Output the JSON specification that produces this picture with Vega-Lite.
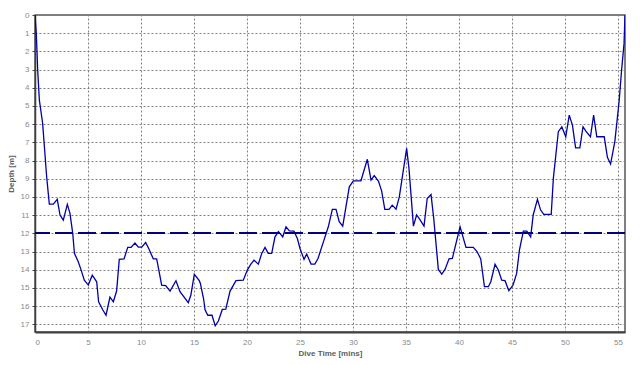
{
  "$schema": "https://vega.github.io/schema/vega-lite/v6.json",
  "autosize": "none",
  "width": 590,
  "height": 317,
  "padding": {"left": 35, "top": 15, "right": 15, "bottom": 33},
  "background": "white",
  "config": {
    "view": {"stroke": "#555555", "strokeWidth": 1.5},
    "axis": {
      "labelFont": "Liberation Sans",
      "labelFontSize": 8,
      "labelColor": "#8a8a8a",
      "titleFont": "Liberation Sans",
      "titleFontSize": 8,
      "titleFontWeight": "bold",
      "titleColor": "#606060",
      "gridColor": "#808080",
      "gridDash": [2, 2],
      "gridOpacity": 1,
      "gridWidth": 1,
      "domainColor": "#404040",
      "tickColor": "#404040",
      "labelOverlap": false
    }
  },
  "data": {
    "values": [
      {"t": 0, "d": 0}, {"t": 0.12, "d": 1}, {"t": 0.19, "d": 2}, {"t": 0.25, "d": 3},
      {"t": 0.41, "d": 4.67}, {"t": 0.72, "d": 5.95}, {"t": 1.1, "d": 8.89}, {"t": 1.35, "d": 10.39},
      {"t": 1.73, "d": 10.39}, {"t": 2.1, "d": 10.13}, {"t": 2.36, "d": 10.99}, {"t": 2.67, "d": 11.27},
      {"t": 3.05, "d": 10.41}, {"t": 3.3, "d": 10.9}, {"t": 3.56, "d": 12.0}, {"t": 3.72, "d": 13.1},
      {"t": 4.08, "d": 13.56}, {"t": 4.4, "d": 14.1}, {"t": 4.65, "d": 14.57}, {"t": 5.03, "d": 14.84},
      {"t": 5.4, "d": 14.3}, {"t": 5.82, "d": 14.66}, {"t": 6.0, "d": 15.76}, {"t": 6.39, "d": 16.2},
      {"t": 6.7, "d": 16.5}, {"t": 7.07, "d": 15.5}, {"t": 7.39, "d": 15.76}, {"t": 7.7, "d": 15.17},
      {"t": 7.95, "d": 13.43}, {"t": 8.4, "d": 13.4}, {"t": 8.75, "d": 12.77}, {"t": 9.06, "d": 12.77},
      {"t": 9.43, "d": 12.53}, {"t": 9.75, "d": 12.76}, {"t": 10.07, "d": 12.76}, {"t": 10.44, "d": 12.5},
      {"t": 10.78, "d": 12.9}, {"t": 11.16, "d": 13.4}, {"t": 11.48, "d": 13.4}, {"t": 11.95, "d": 14.84},
      {"t": 12.33, "d": 14.87}, {"t": 12.74, "d": 15.17}, {"t": 13.3, "d": 14.6}, {"t": 13.68, "d": 15.2},
      {"t": 14.46, "d": 15.8}, {"t": 14.7, "d": 15.4}, {"t": 15.03, "d": 14.25}, {"t": 15.5, "d": 14.6},
      {"t": 15.6, "d": 14.75}, {"t": 15.9, "d": 15.58}, {"t": 16.04, "d": 16.2}, {"t": 16.3, "d": 16.5},
      {"t": 16.7, "d": 16.5}, {"t": 17.0, "d": 17.08}, {"t": 17.3, "d": 16.82}, {"t": 17.67, "d": 16.18},
      {"t": 18.0, "d": 16.16}, {"t": 18.4, "d": 15.17}, {"t": 18.96, "d": 14.6}, {"t": 19.65, "d": 14.57},
      {"t": 20.03, "d": 14.02}, {"t": 20.35, "d": 13.7}, {"t": 20.66, "d": 13.47}, {"t": 21.07, "d": 13.69},
      {"t": 21.39, "d": 13.1}, {"t": 21.7, "d": 12.77}, {"t": 22.0, "d": 13.1}, {"t": 22.33, "d": 13.1},
      {"t": 22.64, "d": 12.19}, {"t": 22.96, "d": 11.9}, {"t": 23.37, "d": 12.19}, {"t": 23.68, "d": 11.64},
      {"t": 24.0, "d": 11.86}, {"t": 24.43, "d": 11.88}, {"t": 24.75, "d": 12.28}, {"t": 25.0, "d": 12.83},
      {"t": 25.38, "d": 13.43}, {"t": 25.63, "d": 13.14}, {"t": 26.04, "d": 13.69}, {"t": 26.4, "d": 13.69},
      {"t": 26.7, "d": 13.38}, {"t": 27.26, "d": 12.37}, {"t": 27.67, "d": 11.64}, {"t": 28.05, "d": 10.68},
      {"t": 28.4, "d": 10.68}, {"t": 28.7, "d": 11.36}, {"t": 29.03, "d": 11.6}, {"t": 29.65, "d": 9.44},
      {"t": 30.03, "d": 9.11}, {"t": 30.75, "d": 9.11}, {"t": 31.35, "d": 7.93}, {"t": 31.7, "d": 9.07},
      {"t": 32.0, "d": 8.83}, {"t": 32.4, "d": 9.13}, {"t": 32.7, "d": 9.66}, {"t": 33.0, "d": 10.68},
      {"t": 33.4, "d": 10.68}, {"t": 33.7, "d": 10.45}, {"t": 34.06, "d": 10.67}, {"t": 34.37, "d": 9.99},
      {"t": 35.06, "d": 7.33}, {"t": 35.28, "d": 8.43}, {"t": 35.7, "d": 11.6}, {"t": 36.0, "d": 10.99},
      {"t": 36.3, "d": 11.23}, {"t": 36.7, "d": 11.6}, {"t": 37.0, "d": 10.08}, {"t": 37.36, "d": 9.86},
      {"t": 37.6, "d": 11.09}, {"t": 38.05, "d": 13.98}, {"t": 38.37, "d": 14.24}, {"t": 38.68, "d": 13.98},
      {"t": 39.06, "d": 13.4}, {"t": 39.37, "d": 13.38}, {"t": 40.1, "d": 11.64}, {"t": 40.66, "d": 12.77},
      {"t": 41.35, "d": 12.77}, {"t": 41.7, "d": 13.0}, {"t": 42.05, "d": 13.4}, {"t": 42.4, "d": 14.93},
      {"t": 42.77, "d": 14.93}, {"t": 43.0, "d": 14.66}, {"t": 43.4, "d": 13.7}, {"t": 43.7, "d": 14.0},
      {"t": 44.03, "d": 14.57}, {"t": 44.34, "d": 14.6}, {"t": 44.7, "d": 15.15}, {"t": 45.1, "d": 14.84},
      {"t": 45.44, "d": 14.2}, {"t": 45.7, "d": 12.92}, {"t": 46.07, "d": 11.88}, {"t": 46.4, "d": 11.88},
      {"t": 46.76, "d": 12.19}, {"t": 47.0, "d": 10.99}, {"t": 47.4, "d": 10.13}, {"t": 47.7, "d": 10.72},
      {"t": 48.0, "d": 10.96}, {"t": 48.7, "d": 10.96}, {"t": 48.9, "d": 8.98}, {"t": 49.37, "d": 6.41},
      {"t": 49.7, "d": 6.14}, {"t": 50.07, "d": 6.69}, {"t": 50.4, "d": 5.5}, {"t": 50.7, "d": 6.05},
      {"t": 51.0, "d": 7.3}, {"t": 51.4, "d": 7.3}, {"t": 51.7, "d": 6.14}, {"t": 52.0, "d": 6.41},
      {"t": 52.4, "d": 6.69}, {"t": 52.7, "d": 5.5}, {"t": 53.0, "d": 6.69}, {"t": 53.7, "d": 6.69},
      {"t": 54.0, "d": 7.82}, {"t": 54.3, "d": 8.19}, {"t": 54.7, "d": 6.96}, {"t": 55.1, "d": 4.77},
      {"t": 55.34, "d": 3.02}, {"t": 55.57, "d": 1.56}, {"t": 55.66, "d": 0}
    ]
  },
  "layer": [
    {
      "mark": {"type": "line", "color": "#0000a8", "strokeWidth": 1.3, "clip": true},
      "encoding": {
        "x": {
          "field": "t", "type": "quantitative",
          "scale": {"domain": [0, 55.66], "nice": false, "zero": false},
          "axis": {
            "title": "Dive Time [mins]", "values": [0, 5, 10, 15, 20, 25, 30, 35, 40, 45, 50, 55],
            "grid": true, "domainWidth": 2, "tickSize": 0, "labelPadding": 6, "titlePadding": 3
          }
        },
        "y": {
          "field": "d", "type": "quantitative",
          "scale": {"domain": [0, 17.42], "reverse": true, "nice": false, "zero": false},
          "axis": {
            "title": "Depth [m]", "values": [0, 1, 2, 3, 4, 5, 6, 7, 8, 9, 10, 11, 12, 13, 14, 15, 16, 17],
            "grid": true, "domainWidth": 1.5, "tickSize": 3, "labelPadding": 3, "titlePadding": 5
          }
        }
      }
    },
    {
      "mark": {"type": "rule", "color": "#000080", "strokeWidth": 1, "strokeDash": [18, 5]},
      "encoding": {
        "y": {
          "datum": 12, "type": "quantitative",
          "axis": {
            "title": "Depth [m]", "values": [0, 1, 2, 3, 4, 5, 6, 7, 8, 9, 10, 11, 12, 13, 14, 15, 16, 17],
            "grid": true, "domainWidth": 1.5, "tickSize": 3, "labelPadding": 3, "titlePadding": 5
          }
        }
      }
    }
  ]
}
